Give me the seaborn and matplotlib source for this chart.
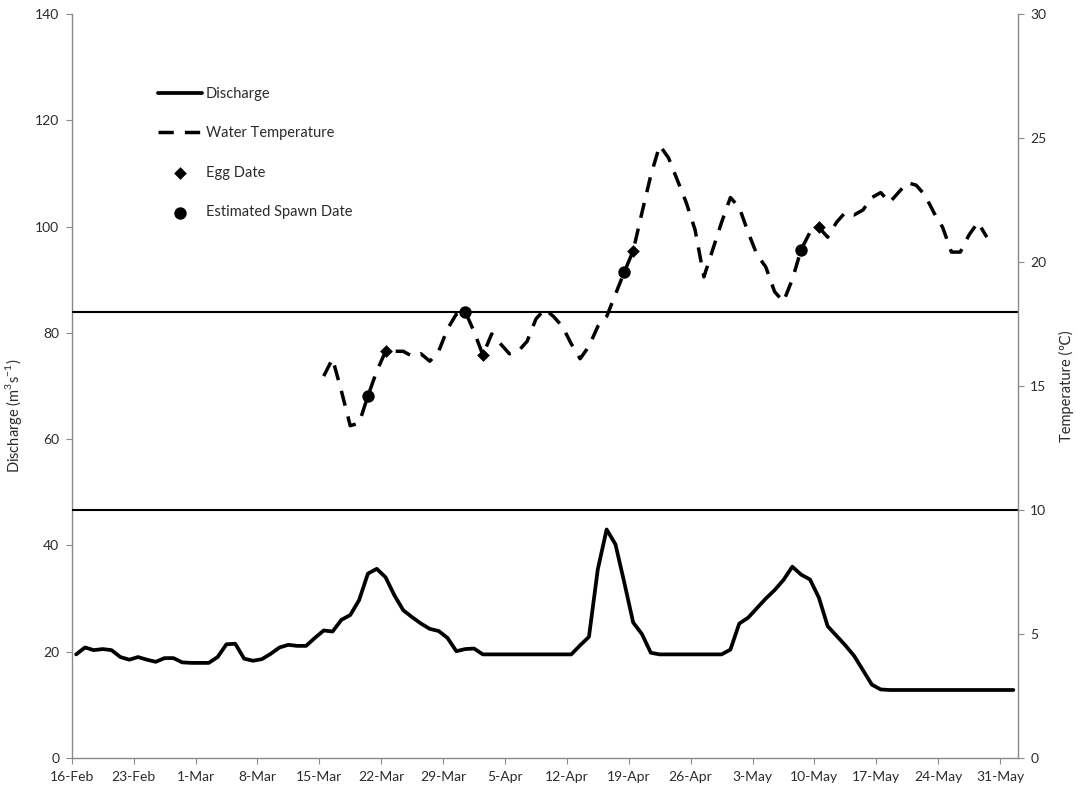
import numpy as np
import pandas as pd
import matplotlib

matplotlib.use("Agg")
import matplotlib.pyplot as plt
import matplotlib.dates as mdates
import seaborn as sns

# --- dati -------------------------------------------------------------------
START = pd.Timestamp("2012-02-16")
N_DAYS_AXIS = 107

# portata giornaliera (m3/s), dal 16-Feb in poi
DISCHARGE = [
    19.5, 20.8, 20.3, 20.5, 20.3, 19.0, 18.5, 19.0, 18.5, 18.1,
    18.8, 18.8, 18.0, 17.9, 17.9, 17.9, 19.0, 21.4, 21.5, 18.7,
    18.3, 18.6, 19.6, 20.8, 21.3, 21.1, 21.1, 22.6, 24.0, 23.8,
    26.0, 26.9, 29.7, 34.7, 35.6, 34.0, 30.6, 27.8, 26.5, 25.3,
    24.3, 23.9, 22.6, 20.1, 20.5, 20.6, 19.5, 19.5, 19.5, 19.5,
    19.5, 19.5, 19.5, 19.5, 19.5, 19.5, 19.5, 21.2, 22.8, 35.5,
    43.0, 40.2, 33.0, 25.5, 23.3, 19.8, 19.5, 19.5, 19.5, 19.5,
    19.5, 19.5, 19.5, 19.5, 20.4, 25.3, 26.4, 28.2, 30.0, 31.6,
    33.5, 36.0, 34.5, 33.6, 30.2, 24.8, 23.0, 21.2, 19.2, 16.5,
    13.8, 12.9, 12.8, 12.8, 12.8, 12.8, 12.8, 12.8, 12.8, 12.8,
    12.8, 12.8, 12.8, 12.8, 12.8, 12.8, 12.8,
]

# temperatura dell'acqua (gradi C), dal giorno 28 (15-Mar)
TEMP_FIRST_DAY = 28
TEMPERATURE = [
    15.4, 16.1, 14.8, 13.4, 13.5, 14.6, 15.6, 16.4, 16.4, 16.4,
    16.2, 16.3, 16.0, 16.4, 17.3, 17.9, 18.0, 17.2, 16.25, 17.1,
    16.7, 16.3, 16.4, 16.8, 17.7, 18.1, 17.8, 17.4, 16.7, 16.1,
    16.6, 17.4, 17.8, 18.7, 19.6, 20.45, 22.0, 23.5, 24.7, 24.2,
    23.3, 22.4, 21.3, 19.4, 20.5, 21.6, 22.6, 22.2, 21.2, 20.3,
    19.8, 18.8, 18.4, 19.3, 20.5, 21.2, 21.4, 21.0, 21.6, 22.0,
    21.9, 22.1, 22.6, 22.8, 22.4, 22.8, 23.2, 23.1, 22.7, 22.0,
    21.4, 20.4, 20.4, 21.1, 21.6, 21.0,
]

EGG_DAYS = [35, 46, 63, 84]
SPAWN_DAYS = [33, 44, 62, 82]
THRESHOLDS = [10, 18]
TICK_DATES = pd.date_range("2012-02-16", "2012-05-31", freq="7D")

# --- grafico ----------------------------------------------------------------
NOON = pd.Timedelta(hours=12)
GRIGIO = "#8a8a8a"
TESTO = "#2b2b2b"
FS_TICK = 10
FS_TXT = 10.5

sns.set_style("ticks")
plt.rcParams["font.family"] = ["Lato", "DejaVu Sans"]

portata = pd.Series(DISCHARGE, index=START + pd.to_timedelta(np.arange(len(DISCHARGE)), unit="D"))
temp = pd.Series(TEMPERATURE,
                 index=START + pd.to_timedelta(np.arange(len(TEMPERATURE)) + TEMP_FIRST_DAY, unit="D"))
uova = temp[START + pd.to_timedelta(EGG_DAYS, unit="D")]
frega = temp[START + pd.to_timedelta(SPAWN_DAYS, unit="D")]

fig = plt.figure(figsize=(10.77, 7.91), dpi=100)
ax = fig.add_axes([0.0666, 0.0417, 0.8784, 0.9406])
ax2 = ax.twinx()

sns.lineplot(x=portata.index + NOON, y=portata.values, color="black", lw=2.7,
             label="Discharge", ax=ax)
sns.lineplot(x=temp.index + NOON, y=temp.values, color="black", lw=2.5,
             linestyle=(0, (4.4, 3.2)), label="Water Temperature", ax=ax2)
for t in THRESHOLDS:
    ax2.axhline(t, color="black", lw=1.5, zorder=1)
sns.scatterplot(x=uova.index + NOON, y=uova.values, marker="D", s=42, color="black",
                linewidth=0, label="Egg Date", ax=ax2, zorder=4)
sns.scatterplot(x=frega.index + NOON, y=frega.values, marker="o", s=80, color="black",
                linewidth=0, label="Estimated Spawn Date", ax=ax2, zorder=4)

for a in (ax, ax2):
    if a.get_legend() is not None:
        a.get_legend().remove()

ax.set_xlim(START, START + pd.Timedelta(days=N_DAYS_AXIS))
ax.set_xticks(TICK_DATES)
ax.xaxis.set_major_formatter(mdates.DateFormatter("%-d-%b"))
ax.set_ylim(0, 140)
ax.set_yticks(range(0, 141, 20))
ax2.set_ylim(0, 30)
ax2.set_yticks(range(0, 31, 5))

for a in (ax, ax2):
    a.tick_params(direction="out", length=4, width=0.8, color=GRIGIO,
                  labelsize=FS_TICK, labelcolor=TESTO, pad=5)
    a.spines["top"].set_visible(False)
    for s in a.spines.values():
        s.set_color(GRIGIO)
        s.set_linewidth(1.0)
ax.spines["right"].set_visible(False)
ax2.spines["left"].set_visible(False)
ax2.spines["bottom"].set_visible(False)

ax.set_xlabel("")
ax.set_ylabel(r"Discharge (m$^\mathregular{3}$s$^\mathregular{-1}$)", fontsize=FS_TXT, color=TESTO)
ax.yaxis.set_label_coords(-0.050, 0.46)
ax2.set_ylabel("Temperature (℃)", fontsize=FS_TXT, color=TESTO, rotation=90)
ax2.yaxis.set_label_coords(1.043, 0.5)

h1, l1 = ax.get_legend_handles_labels()
h2, l2 = ax2.get_legend_handles_labels()
ax2.legend(h1 + h2, l1 + l2, loc="upper left", bbox_to_anchor=(0.091, 0.902),
           frameon=False, fontsize=FS_TXT, handlelength=3.0, handletextpad=0.3,
           labelspacing=1.75, borderpad=0, borderaxespad=0, labelcolor=TESTO)

fig.savefig("out.png", dpi=100)
plt.close(fig)
